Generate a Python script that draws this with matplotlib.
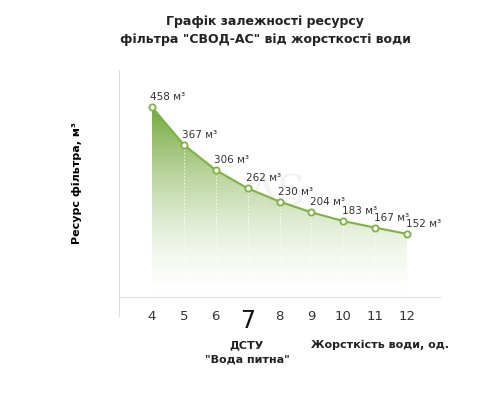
import matplotlib
matplotlib.use("Agg")
import matplotlib.pyplot as plt
import numpy as np
from matplotlib.patches import Polygon
from matplotlib.colors import LinearSegmentedColormap

hardness = [4, 5, 6, 7, 8, 9, 10, 11, 12]
resource = [458, 367, 306, 262, 230, 204, 183, 167, 152]
labels = [f"{v} м³" for v in resource]

fig = plt.figure(figsize=(5, 4), dpi=100)
ax = fig.add_axes([0.238, 0.2575, 0.642, 0.5675])
ax.set_xlim(2.97, 13.03)
ax.set_ylim(0, 547)

green = "#7cb342"
grad = np.linspace(0, 1, 256).reshape(-1, 1) ** 0.8
cmap = LinearSegmentedColormap.from_list("g", [(1, 1, 1, 0.0), (0.45, 0.66, 0.22, 1.0)])
im = ax.imshow(grad, extent=[hardness[0], hardness[-1], 0, max(resource)], origin="lower",
               aspect="auto", cmap=cmap, zorder=1)
poly = Polygon(list(zip(hardness, resource)) + [(hardness[-1], 0), (hardness[0], 0)],
               closed=True, transform=ax.transData, facecolor="none", edgecolor="none")
ax.add_patch(poly)
im.set_clip_path(poly)

for x, y in zip(hardness[1:], resource[1:]):
    ax.plot([x, x], [0, y], color="white", lw=0.8, ls=(0, (1, 2)), zorder=2)

ax.plot(hardness, resource, color=green, lw=1.5, zorder=3)
ax.plot(hardness, resource, "o", ms=4.5, mfc="white", mec=green, mew=1.3, zorder=4)
for x, y, t in zip(hardness, resource, labels):
    ax.text(x - 0.05, y + 12, t, fontsize=7.5, color="#333333", ha="left",
            va="bottom", zorder=5)

ax.text(7.9, 250, "AS", fontsize=30, color="#cccccc", alpha=0.25, family="DejaVu Serif",
        ha="center", va="center", zorder=2)

for s in ["top", "right"]:
    ax.spines[s].set_visible(False)
ax.spines["left"].set_color("#dddddd")
ax.spines["bottom"].set_color("#dddddd")
ax.spines["left"].set_bounds(-45, 547)
ax.spines["left"].set_clip_on(False)
ax.set_yticks([])
ax.set_xticks(hardness)
ax.set_xticklabels([str(h) for h in hardness], fontsize=9.5, color="#333333")
ax.tick_params(axis="x", length=0, pad=9)
for lbl in ax.get_xticklabels():
    if lbl.get_text() == "7":
        lbl.set_fontsize(17)
        lbl.set_color("#111111")

ax.set_ylabel("Ресурс фільтра, м³", fontsize=8, fontweight="bold", labelpad=27)
fig.text(0.53, 0.925, "Графік залежності ресурсу\nфільтра \"СВОД-АС\" від жорсткості води",
         ha="center", va="center", fontsize=9, fontweight="bold", color="#222222", linespacing=1.5)
fig.text(0.494, 0.12, "ДСТУ\n\"Вода питна\"", ha="center", va="center", fontsize=8,
         fontweight="bold", color="#222222", linespacing=1.5)
fig.text(0.76, 0.137, "Жорсткість води, од.", ha="center", va="center", fontsize=8,
         fontweight="bold", color="#222222")

fig.savefig("out.png", dpi=100)
